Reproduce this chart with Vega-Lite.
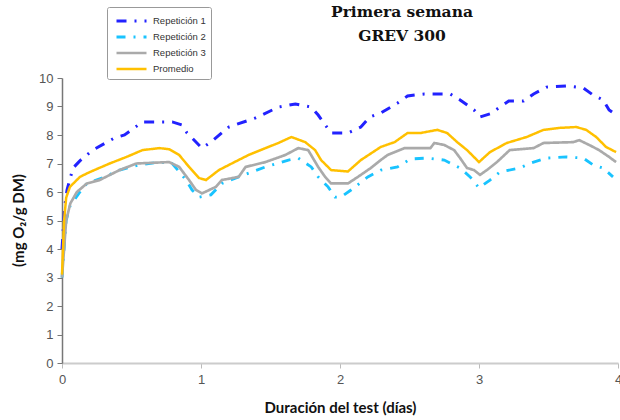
{
  "$schema": "https://vega.github.io/schema/vega-lite/v6.json",
  "autosize": "none",
  "width": 556,
  "height": 285,
  "padding": {"left": 62, "top": 78, "right": 2, "bottom": 57},
  "background": "white",
  "title": {
    "text": ["Primera semana", "GREV 300"],
    "font": "DejaVu Serif",
    "fontWeight": "bold",
    "fontSize": 15.5,
    "lineHeight": 24,
    "color": "#111",
    "anchor": "middle",
    "frame": "group",
    "dx": 62,
    "offset": -38
  },
  "config": {"view": {"stroke": null}},
  "data": {
    "values": [
      {"serie": "Repetición 1", "dia": 0, "valor": 4.0},
      {"serie": "Repetición 1", "dia": 0.02, "valor": 5.5},
      {"serie": "Repetición 1", "dia": 0.036, "valor": 6.07},
      {"serie": "Repetición 1", "dia": 0.079, "valor": 6.84},
      {"serie": "Repetición 1", "dia": 0.13, "valor": 7.1},
      {"serie": "Repetición 1", "dia": 0.221, "valor": 7.47},
      {"serie": "Repetición 1", "dia": 0.379, "valor": 7.9},
      {"serie": "Repetición 1", "dia": 0.45, "valor": 8.0},
      {"serie": "Repetición 1", "dia": 0.579, "valor": 8.46},
      {"serie": "Repetición 1", "dia": 0.793, "valor": 8.46},
      {"serie": "Repetición 1", "dia": 0.864, "valor": 8.35},
      {"serie": "Repetición 1", "dia": 0.9, "valor": 8.07},
      {"serie": "Repetición 1", "dia": 1.007, "valor": 7.54},
      {"serie": "Repetición 1", "dia": 1.071, "valor": 7.75},
      {"serie": "Repetición 1", "dia": 1.2, "valor": 8.28},
      {"serie": "Repetición 1", "dia": 1.393, "valor": 8.6},
      {"serie": "Repetición 1", "dia": 1.557, "valor": 8.98},
      {"serie": "Repetición 1", "dia": 1.679, "valor": 9.09},
      {"serie": "Repetición 1", "dia": 1.793, "valor": 8.98},
      {"serie": "Repetición 1", "dia": 1.843, "valor": 8.7},
      {"serie": "Repetición 1", "dia": 1.936, "valor": 8.07},
      {"serie": "Repetición 1", "dia": 2.057, "valor": 8.07},
      {"serie": "Repetición 1", "dia": 2.15, "valor": 8.28},
      {"serie": "Repetición 1", "dia": 2.214, "valor": 8.63},
      {"serie": "Repetición 1", "dia": 2.293, "valor": 8.77},
      {"serie": "Repetición 1", "dia": 2.414, "valor": 9.12},
      {"serie": "Repetición 1", "dia": 2.486, "valor": 9.37},
      {"serie": "Repetición 1", "dia": 2.607, "valor": 9.44},
      {"serie": "Repetición 1", "dia": 2.793, "valor": 9.44},
      {"serie": "Repetición 1", "dia": 2.864, "valor": 9.23},
      {"serie": "Repetición 1", "dia": 2.964, "valor": 8.88},
      {"serie": "Repetición 1", "dia": 3.007, "valor": 8.63},
      {"serie": "Repetición 1", "dia": 3.079, "valor": 8.74},
      {"serie": "Repetición 1", "dia": 3.214, "valor": 9.19},
      {"serie": "Repetición 1", "dia": 3.321, "valor": 9.19},
      {"serie": "Repetición 1", "dia": 3.393, "valor": 9.44},
      {"serie": "Repetición 1", "dia": 3.486, "valor": 9.68},
      {"serie": "Repetición 1", "dia": 3.629, "valor": 9.72},
      {"serie": "Repetición 1", "dia": 3.75, "valor": 9.65},
      {"serie": "Repetición 1", "dia": 3.821, "valor": 9.4},
      {"serie": "Repetición 1", "dia": 3.893, "valor": 9.23},
      {"serie": "Repetición 1", "dia": 3.936, "valor": 8.88},
      {"serie": "Repetición 1", "dia": 3.986, "valor": 8.7},

      {"serie": "Repetición 2", "dia": 0, "valor": 3.0},
      {"serie": "Repetición 2", "dia": 0.03, "valor": 5.0},
      {"serie": "Repetición 2", "dia": 0.057, "valor": 5.5},
      {"serie": "Repetición 2", "dia": 0.129, "valor": 6.0},
      {"serie": "Repetición 2", "dia": 0.179, "valor": 6.3},
      {"serie": "Repetición 2", "dia": 0.293, "valor": 6.5},
      {"serie": "Repetición 2", "dia": 0.414, "valor": 6.77},
      {"serie": "Repetición 2", "dia": 0.557, "valor": 6.95},
      {"serie": "Repetición 2", "dia": 0.7, "valor": 7.05},
      {"serie": "Repetición 2", "dia": 0.793, "valor": 7.0},
      {"serie": "Repetición 2", "dia": 0.893, "valor": 6.42},
      {"serie": "Repetición 2", "dia": 0.936, "valor": 6.07},
      {"serie": "Repetición 2", "dia": 0.986, "valor": 5.82},
      {"serie": "Repetición 2", "dia": 1.071, "valor": 5.9},
      {"serie": "Repetición 2", "dia": 1.15, "valor": 6.3},
      {"serie": "Repetición 2", "dia": 1.271, "valor": 6.53},
      {"serie": "Repetición 2", "dia": 1.364, "valor": 6.7},
      {"serie": "Repetición 2", "dia": 1.464, "valor": 6.88},
      {"serie": "Repetición 2", "dia": 1.629, "valor": 7.12},
      {"serie": "Repetición 2", "dia": 1.7, "valor": 7.19},
      {"serie": "Repetición 2", "dia": 1.793, "valor": 6.88},
      {"serie": "Repetición 2", "dia": 1.843, "valor": 6.53},
      {"serie": "Repetición 2", "dia": 1.914, "valor": 6.18},
      {"serie": "Repetición 2", "dia": 1.964, "valor": 5.82},
      {"serie": "Repetición 2", "dia": 2.007, "valor": 5.82},
      {"serie": "Repetición 2", "dia": 2.079, "valor": 6.07},
      {"serie": "Repetición 2", "dia": 2.2, "valor": 6.53},
      {"serie": "Repetición 2", "dia": 2.293, "valor": 6.77},
      {"serie": "Repetición 2", "dia": 2.414, "valor": 6.88},
      {"serie": "Repetición 2", "dia": 2.507, "valor": 7.16},
      {"serie": "Repetición 2", "dia": 2.629, "valor": 7.19},
      {"serie": "Repetición 2", "dia": 2.75, "valor": 7.12},
      {"serie": "Repetición 2", "dia": 2.864, "valor": 6.84},
      {"serie": "Repetición 2", "dia": 2.936, "valor": 6.53},
      {"serie": "Repetición 2", "dia": 3.0, "valor": 6.14},
      {"serie": "Repetición 2", "dia": 3.079, "valor": 6.42},
      {"serie": "Repetición 2", "dia": 3.15, "valor": 6.7},
      {"serie": "Repetición 2", "dia": 3.293, "valor": 6.84},
      {"serie": "Repetición 2", "dia": 3.364, "valor": 7.0},
      {"serie": "Repetición 2", "dia": 3.486, "valor": 7.19},
      {"serie": "Repetición 2", "dia": 3.629, "valor": 7.23},
      {"serie": "Repetición 2", "dia": 3.75, "valor": 7.19},
      {"serie": "Repetición 2", "dia": 3.821, "valor": 6.95},
      {"serie": "Repetición 2", "dia": 3.893, "valor": 6.84},
      {"serie": "Repetición 2", "dia": 3.964, "valor": 6.53},

      {"serie": "Repetición 3", "dia": 0, "valor": 3.0},
      {"serie": "Repetición 3", "dia": 0.03, "valor": 5.0},
      {"serie": "Repetición 3", "dia": 0.06, "valor": 5.6},
      {"serie": "Repetición 3", "dia": 0.107, "valor": 6.0},
      {"serie": "Repetición 3", "dia": 0.179, "valor": 6.3},
      {"serie": "Repetición 3", "dia": 0.271, "valor": 6.42},
      {"serie": "Repetición 3", "dia": 0.414, "valor": 6.77},
      {"serie": "Repetición 3", "dia": 0.536, "valor": 7.0},
      {"serie": "Repetición 3", "dia": 0.771, "valor": 7.05},
      {"serie": "Repetición 3", "dia": 0.843, "valor": 6.88},
      {"serie": "Repetición 3", "dia": 0.914, "valor": 6.42},
      {"serie": "Repetición 3", "dia": 0.964, "valor": 6.07},
      {"serie": "Repetición 3", "dia": 1.007, "valor": 5.95},
      {"serie": "Repetición 3", "dia": 1.107, "valor": 6.18},
      {"serie": "Repetición 3", "dia": 1.15, "valor": 6.42},
      {"serie": "Repetición 3", "dia": 1.271, "valor": 6.53},
      {"serie": "Repetición 3", "dia": 1.321, "valor": 6.88},
      {"serie": "Repetición 3", "dia": 1.464, "valor": 7.05},
      {"serie": "Repetición 3", "dia": 1.607, "valor": 7.3},
      {"serie": "Repetición 3", "dia": 1.7, "valor": 7.54},
      {"serie": "Repetición 3", "dia": 1.771, "valor": 7.47},
      {"serie": "Repetición 3", "dia": 1.843, "valor": 6.88},
      {"serie": "Repetición 3", "dia": 1.893, "valor": 6.53},
      {"serie": "Repetición 3", "dia": 1.936, "valor": 6.3},
      {"serie": "Repetición 3", "dia": 2.057, "valor": 6.3},
      {"serie": "Repetición 3", "dia": 2.129, "valor": 6.53},
      {"serie": "Repetición 3", "dia": 2.221, "valor": 6.84},
      {"serie": "Repetición 3", "dia": 2.293, "valor": 7.12},
      {"serie": "Repetición 3", "dia": 2.343, "valor": 7.3},
      {"serie": "Repetición 3", "dia": 2.464, "valor": 7.54},
      {"serie": "Repetición 3", "dia": 2.65, "valor": 7.54},
      {"serie": "Repetición 3", "dia": 2.679, "valor": 7.72},
      {"serie": "Repetición 3", "dia": 2.75, "valor": 7.65},
      {"serie": "Repetición 3", "dia": 2.821, "valor": 7.47},
      {"serie": "Repetición 3", "dia": 2.864, "valor": 7.19},
      {"serie": "Repetición 3", "dia": 2.914, "valor": 6.84},
      {"serie": "Repetición 3", "dia": 2.964, "valor": 6.77},
      {"serie": "Repetición 3", "dia": 3.007, "valor": 6.6},
      {"serie": "Repetición 3", "dia": 3.057, "valor": 6.77},
      {"serie": "Repetición 3", "dia": 3.129, "valor": 7.05},
      {"serie": "Repetición 3", "dia": 3.221, "valor": 7.47},
      {"serie": "Repetición 3", "dia": 3.393, "valor": 7.54},
      {"serie": "Repetición 3", "dia": 3.464, "valor": 7.72},
      {"serie": "Repetición 3", "dia": 3.679, "valor": 7.75},
      {"serie": "Repetición 3", "dia": 3.721, "valor": 7.82},
      {"serie": "Repetición 3", "dia": 3.793, "valor": 7.65},
      {"serie": "Repetición 3", "dia": 3.864, "valor": 7.47},
      {"serie": "Repetición 3", "dia": 3.936, "valor": 7.23},
      {"serie": "Repetición 3", "dia": 3.986, "valor": 7.05},

      {"serie": "Promedio", "dia": 0, "valor": 3.1},
      {"serie": "Promedio", "dia": 0.015, "valor": 5.0},
      {"serie": "Promedio", "dia": 0.03, "valor": 5.8},
      {"serie": "Promedio", "dia": 0.057, "valor": 6.18},
      {"serie": "Promedio", "dia": 0.129, "valor": 6.53},
      {"serie": "Promedio", "dia": 0.2, "valor": 6.7},
      {"serie": "Promedio", "dia": 0.343, "valor": 7.0},
      {"serie": "Promedio", "dia": 0.464, "valor": 7.23},
      {"serie": "Promedio", "dia": 0.579, "valor": 7.47},
      {"serie": "Promedio", "dia": 0.7, "valor": 7.54},
      {"serie": "Promedio", "dia": 0.771, "valor": 7.5},
      {"serie": "Promedio", "dia": 0.843, "valor": 7.3},
      {"serie": "Promedio", "dia": 0.914, "valor": 6.88},
      {"serie": "Promedio", "dia": 0.986, "valor": 6.49},
      {"serie": "Promedio", "dia": 1.036, "valor": 6.42},
      {"serie": "Promedio", "dia": 1.129, "valor": 6.77},
      {"serie": "Promedio", "dia": 1.221, "valor": 7.0},
      {"serie": "Promedio", "dia": 1.343, "valor": 7.3},
      {"serie": "Promedio", "dia": 1.464, "valor": 7.54},
      {"serie": "Promedio", "dia": 1.557, "valor": 7.72},
      {"serie": "Promedio", "dia": 1.65, "valor": 7.93},
      {"serie": "Promedio", "dia": 1.75, "valor": 7.75},
      {"serie": "Promedio", "dia": 1.821, "valor": 7.47},
      {"serie": "Promedio", "dia": 1.864, "valor": 7.12},
      {"serie": "Promedio", "dia": 1.936, "valor": 6.77},
      {"serie": "Promedio", "dia": 2.057, "valor": 6.72},
      {"serie": "Promedio", "dia": 2.15, "valor": 7.12},
      {"serie": "Promedio", "dia": 2.293, "valor": 7.58},
      {"serie": "Promedio", "dia": 2.393, "valor": 7.75},
      {"serie": "Promedio", "dia": 2.486, "valor": 8.07},
      {"serie": "Promedio", "dia": 2.579, "valor": 8.07},
      {"serie": "Promedio", "dia": 2.7, "valor": 8.18},
      {"serie": "Promedio", "dia": 2.771, "valor": 8.07},
      {"serie": "Promedio", "dia": 2.843, "valor": 7.75},
      {"serie": "Promedio", "dia": 2.914, "valor": 7.47},
      {"serie": "Promedio", "dia": 3.0, "valor": 7.05},
      {"serie": "Promedio", "dia": 3.079, "valor": 7.4},
      {"serie": "Promedio", "dia": 3.2, "valor": 7.72},
      {"serie": "Promedio", "dia": 3.343, "valor": 7.93},
      {"serie": "Promedio", "dia": 3.464, "valor": 8.18},
      {"serie": "Promedio", "dia": 3.579, "valor": 8.25},
      {"serie": "Promedio", "dia": 3.7, "valor": 8.28},
      {"serie": "Promedio", "dia": 3.771, "valor": 8.18},
      {"serie": "Promedio", "dia": 3.843, "valor": 7.93},
      {"serie": "Promedio", "dia": 3.914, "valor": 7.58},
      {"serie": "Promedio", "dia": 3.986, "valor": 7.4}
    ]
  },
  "mark": {"type": "line", "interpolate": "linear", "strokeCap": "butt"},
  "encoding": {
    "x": {
      "field": "dia",
      "type": "quantitative",
      "scale": {"domain": [0, 4], "nice": false},
      "axis": {
        "title": "Duración del test (días)",
        "titleFont": "Lato",
        "titleFontWeight": "bold",
        "titleFontSize": 15,
        "titleColor": "#111",
        "titlePadding": 14,
        "values": [0, 1, 2, 3, 4],
        "format": "d",
        "labelFont": "Liberation Sans",
        "labelFontSize": 13,
        "labelColor": "#555",
        "labelFlush": false,
        "labelPadding": 5,
        "grid": false,
        "domainColor": "#cccccc",
        "domainWidth": 2,
        "tickColor": "#bbbbbb",
        "tickSize": 5
      }
    },
    "y": {
      "field": "valor",
      "type": "quantitative",
      "scale": {"domain": [0, 10], "nice": false},
      "axis": {
        "title": "(mg O₂/g DM)",
        "titleFont": "Lato",
        "titleFontWeight": "bold",
        "titleFontSize": 15,
        "titleColor": "#111",
        "titleAngle": -90,
        "titleX": -44,
        "titleY": 142,
        "titleAlign": "center",
        "titleBaseline": "middle",
        "values": [0, 1, 2, 3, 4, 5, 6, 7, 8, 9, 10],
        "labelFont": "Liberation Sans",
        "labelFontSize": 13,
        "labelColor": "#555",
        "labelPadding": 4,
        "grid": false,
        "domainColor": "#777777",
        "domainWidth": 1.5,
        "tickColor": "#777777",
        "tickSize": 5
      }
    },
    "color": {
      "field": "serie",
      "type": "nominal",
      "sort": ["Repetición 1", "Repetición 2", "Repetición 3", "Promedio"],
      "scale": {
        "domain": ["Repetición 1", "Repetición 2", "Repetición 3", "Promedio"],
        "range": ["#2222ff", "#19c3ff", "#aaaaaa", "#ffc000"]
      },
      "legend": {
        "title": null,
        "orient": "none",
        "legendX": 45,
        "legendY": -71,
        "strokeColor": "#999999",
        "fillColor": "white",
        "padding": 5,
        "cornerRadius": 2,
        "symbolType": "M-2,0H2",
        "symbolSize": 225,
        "symbolOffset": 10.5,
        "symbolFillColor": "transparent",
        "rowPadding": 1,
        "labelOffset": 12.5,
        "labelFont": "Liberation Sans",
        "labelFontSize": 9.5,
        "labelColor": "#333"
      }
    },
    "strokeDash": {
      "field": "serie",
      "type": "nominal",
      "sort": ["Repetición 1", "Repetición 2", "Repetición 3", "Promedio"],
      "scale": {
        "domain": ["Repetición 1", "Repetición 2", "Repetición 3", "Promedio"],
        "range": [[10, 8, 2, 8], [9, 8, 2, 8], [1, 0], [1, 0]]
      },
      "legend": null
    },
    "strokeWidth": {
      "field": "serie",
      "type": "nominal",
      "scale": {
        "domain": ["Repetición 1", "Repetición 2", "Repetición 3", "Promedio"],
        "range": [3, 2.5, 2, 2]
      },
      "legend": null
    }
  }
}
